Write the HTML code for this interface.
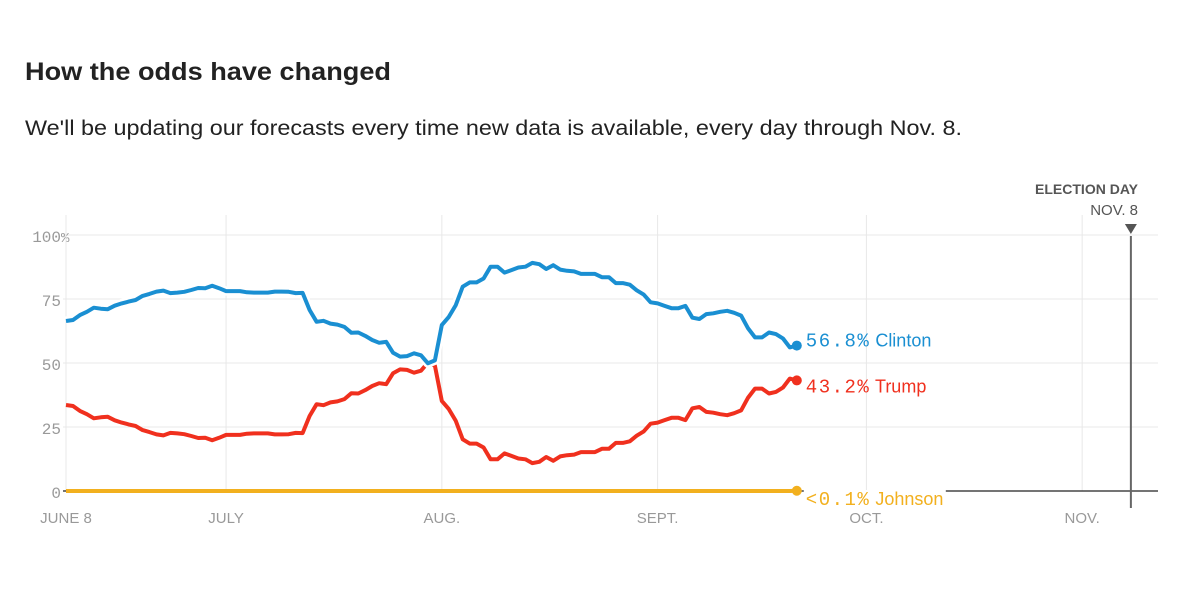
<!DOCTYPE html>
<html><head><meta charset="utf-8"><style>
body{margin:0;background:#fff;width:1200px;height:605px;overflow:hidden}
svg{display:block}
</style></head><body>
<svg id="chart" width="1200" height="605" xmlns="http://www.w3.org/2000/svg" font-family="Liberation Sans, sans-serif">
<text x="25" y="80" font-size="25" font-weight="bold" fill="#222" textLength="366" lengthAdjust="spacingAndGlyphs">How the odds have changed</text>
<text x="25" y="135" font-size="21" fill="#222" textLength="937" lengthAdjust="spacingAndGlyphs">We'll be updating our forecasts every time new data is available, every day through Nov. 8.</text>
<g id="grid"></g>
<g id="marks"></g>
<g id="labels"></g>
</svg>
<script>
const yTicks = [0, 25, 50, 75, 100];
const monthLabels = ["JUNE 8", "JULY", "AUG.", "SEPT.", "OCT.", "NOV."];
const monthDays = [0, 23, 54, 85, 115, 146];
const electionDay = 153;
const clinton = [66.4,66.8,68.7,70,71.6,71.2,71,72.4,73.3,74,74.6,76.2,77,77.9,78.3,77.3,77.5,77.8,78.5,79.3,79.2,80.2,79.2,78.1,78.1,78.1,77.6,77.5,77.5,77.5,77.9,77.9,77.8,77.3,77.4,70.7,66.1,66.5,65.4,65,64.1,61.8,61.9,60.6,59,57.9,58.3,54,52.5,52.7,53.8,53,49.9,51,64.8,68,72.6,79.8,81.5,81.5,83,87.6,87.6,85.3,86.3,87.3,87.6,89.1,88.6,86.7,88.2,86.5,86,85.8,84.8,84.8,84.8,83.5,83.5,81.2,81.2,80.6,78.4,76.7,73.7,73.3,72.3,71.4,71.4,72.3,67.7,67.2,69.1,69.4,70,70.4,69.6,68.5,63.5,60,60,61.9,61.3,59.6,56.1,56.8];
const trump = [33.6,33.2,31.3,30,28.4,28.8,29,27.6,26.7,26,25.4,23.8,23,22.1,21.7,22.7,22.5,22.2,21.5,20.7,20.8,19.8,20.8,21.9,21.9,21.9,22.4,22.5,22.5,22.5,22.1,22.1,22.2,22.7,22.6,29.3,33.9,33.5,34.6,35,35.9,38.2,38.1,39.4,41,42.1,41.7,46,47.5,47.3,46.2,47,50.1,49,35.2,32,27.4,20.2,18.5,18.5,17,12.4,12.4,14.7,13.7,12.7,12.4,10.9,11.4,13.3,11.8,13.5,14,14.2,15.2,15.2,15.2,16.5,16.5,18.8,18.8,19.4,21.6,23.3,26.3,26.7,27.7,28.6,28.6,27.7,32.3,32.8,30.9,30.6,30,29.6,30.4,31.5,36.5,40,40,38.1,38.7,40.4,43.9,43.2];
const johnson = [0,0,0,0,0,0,0,0,0,0,0,0,0,0,0,0,0,0,0,0,0,0,0,0,0,0,0,0,0,0,0,0,0,0,0,0,0,0,0,0,0,0,0,0,0,0,0,0,0,0,0,0,0,0,0,0,0,0,0,0,0,0,0,0,0,0,0,0,0,0,0,0,0,0,0,0,0,0,0,0,0,0,0,0,0,0,0,0,0,0,0,0,0,0,0,0,0,0,0,0,0,0,0,0,0,0.1];
const labelValues = ["56.8%", "43.2%", "<0.1%"];
const labelNames = ["Clinton", "Trump", "Johnson"];

const NS = "http://www.w3.org/2000/svg";
const X = d => 66 + d * 6.96;
const Y = v => 491 - v * 2.56;
function mk(tag, attrs, parent) {
  const e = document.createElementNS(NS, tag);
  for (const k in attrs) e.setAttribute(k, attrs[k]);
  parent.appendChild(e);
  return e;
}
const grid = document.getElementById('grid');
const marks = document.getElementById('marks');
const labels = document.getElementById('labels');

yTicks.forEach(t => {
  if (t > 0) {
    const l = mk('line', {x1: 63, x2: 1158, y1: Y(t), y2: Y(t), stroke: '#e8e8e8', 'stroke-width': 1}, grid);
    
    
  }
  const tx = mk('text', {x: 61, y: Y(t) + 7, 'text-anchor': 'end', 'font-family': 'Liberation Mono, monospace', 'font-size': 16, fill: '#999'}, grid);
  tx.textContent = String(t);
  
  
  if (t === 100) {
    const p = mk('text', {x: 61, y: Y(t) + 7, 'font-family': 'Liberation Mono, monospace', 'font-size': 14, fill: '#999'}, grid);
    p.textContent = '%';
    
    
  }
});
monthDays.forEach((d, i) => {
  const l = mk('line', {x1: X(d), x2: X(d), y1: 215, y2: 491, stroke: '#e8e8e8', 'stroke-width': 1}, grid);
  
  
  const tx = mk('text', {x: X(d), y: 523, 'text-anchor': 'middle', 'font-size': 15, fill: '#999'}, grid);
  tx.textContent = monthLabels[i];
  
  
});
const base = mk('line', {x1: 63, x2: 1158, y1: Y(0), y2: Y(0), stroke: '#222', 'stroke-width': 1.3}, grid);



const ex = X(electionDay);
const el = mk('line', {x1: ex, x2: ex, y1: 236, y2: 508, stroke: '#666', 'stroke-width': 2}, grid);


const tri = mk('path', {d: `M${ex-6},224 L${ex+6},224 L${ex},234 Z`, fill: '#555'}, grid);


const et = mk('text', {x: 1138, y: 194, 'text-anchor': 'end', 'font-size': 14, 'font-weight': 'bold', fill: '#555'}, grid);
et.textContent = 'ELECTION DAY';


const et2 = mk('text', {x: 1138, y: 215, 'text-anchor': 'end', 'font-size': 15, fill: '#555'}, grid);
et2.textContent = 'NOV. 8';



function pathOf(arr) { return arr.map((v, i) => (i ? 'L' : 'M') + X(i).toFixed(1) + ',' + Y(v).toFixed(1)).join(' '); }
const series = [
  {data: johnson, color: '#f2b01e', name: 'johnson', halo: false},
  {data: trump, color: '#f0301e', name: 'trump', halo: false},
  {data: clinton, color: '#1a8fd2', name: 'clinton', halo: true}
];
series.forEach(s => {
  const n = s.data.length - 1;
  const d = pathOf(s.data);
  if (s.halo) {
    const h = mk('path', {d: d, fill: 'none', stroke: '#fff', 'stroke-width': 9, 'stroke-linejoin': 'round'}, marks);
    
    
  }
  const p = mk('path', {d: d, fill: 'none', stroke: s.color, 'stroke-width': 4, 'stroke-linejoin': 'round'}, marks);
  
  
  const c = mk('circle', {cx: X(n), cy: Y(s.data[n]), r: 5, fill: s.color}, marks);
  
  
});

const lx = X(clinton.length - 1) + 9;
const labelY = [Y(clinton[clinton.length-1]) - 6, Y(trump[trump.length-1]) + 5, Y(0) + 7];
const labelColors = ['#1a8fd2', '#f0301e', '#f2b01e'];
labelNames.forEach((nm, i) => {
  if (i === 2) {
    const bg = mk('rect', {x: lx - 2, y: labelY[i] - 8, width: 142, height: 14, fill: '#fff'}, labels);
    
    
  }
  const t = mk('text', {x: lx, y: labelY[i] + 7, 'font-size': 18, fill: labelColors[i]}, labels);
  
  
  const a = document.createElementNS(NS, 'tspan');
  a.setAttribute('font-family', 'Liberation Mono, monospace');
  a.setAttribute('font-size', '19');
  a.setAttribute('letter-spacing', '1.5');
  a.textContent = labelValues[i];
  t.appendChild(a);
  const b = document.createElementNS(NS, 'tspan');
  b.textContent = ' ' + nm;
  t.appendChild(b);
});
</script>
</body></html>
